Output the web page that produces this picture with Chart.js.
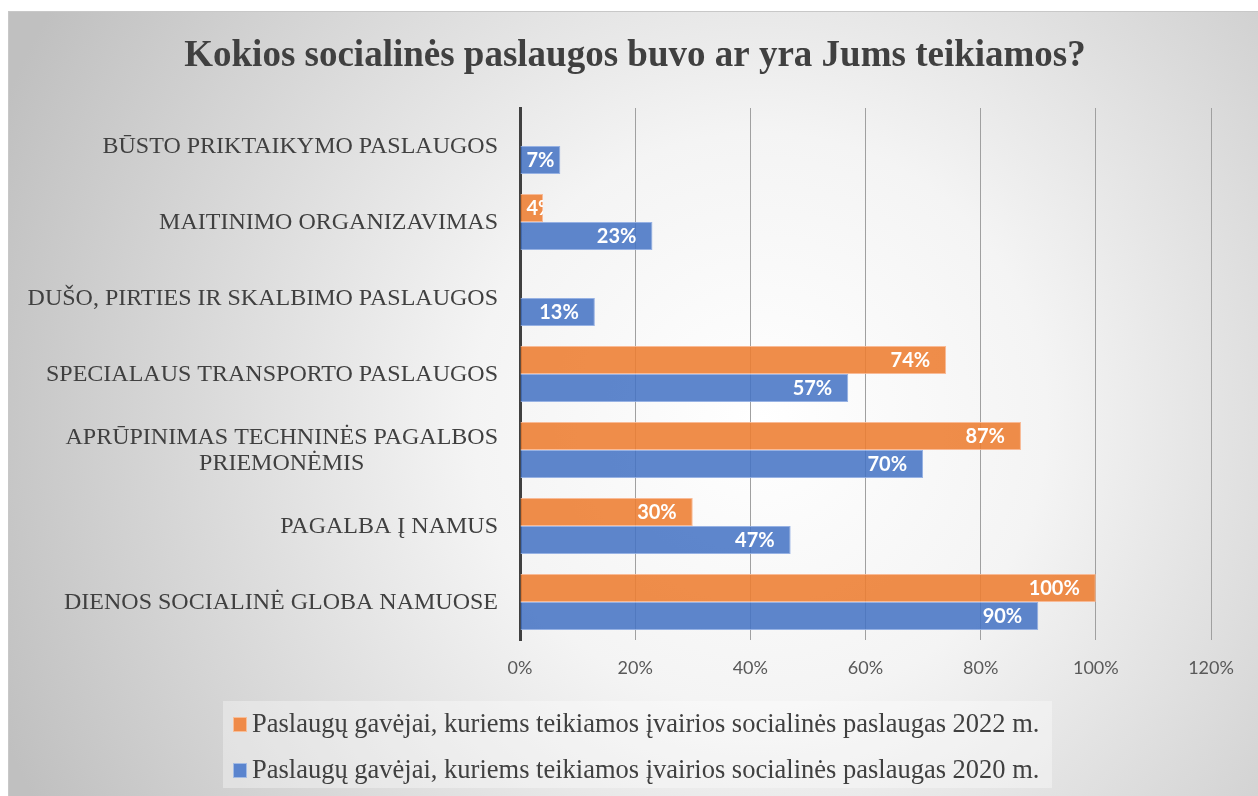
<!DOCTYPE html>
<html>
<head>
<meta charset="utf-8">
<script src="https://cdn.jsdelivr.net/npm/chart.js@4.4.1/dist/chart.umd.min.js"></script>
<style>
html,body{margin:0;padding:0;background:#fff;}
#wrap{position:absolute;left:0;top:0;width:1258px;height:796px;}
</style>
</head>
<body>
<div id="wrap"><canvas id="c"></canvas></div>
<script>
const chartTitle = 'Kokios socialinės paslaugos buvo ar yra Jums teikiamos?';
const categories = [
  ['BŪSTO PRIKTAIKYMO PASLAUGOS'],
  ['MAITINIMO ORGANIZAVIMAS'],
  ['DUŠO, PIRTIES IR SKALBIMO PASLAUGOS'],
  ['SPECIALAUS TRANSPORTO PASLAUGOS'],
  ['APRŪPINIMAS TECHNINĖS PAGALBOS', 'PRIEMONĖMIS'],
  ['PAGALBA Į NAMUS'],
  ['DIENOS SOCIALINĖ GLOBA NAMUOSE']
];
const seriesNames = [
  'Paslaugų gavėjai, kuriems teikiamos įvairios socialinės paslaugas 2022 m.',
  'Paslaugų gavėjai, kuriems teikiamos įvairios socialinės paslaugas 2020 m.'
];
const values2022 = [null, 4, null, 74, 87, 30, 100];
const values2020 = [7, 23, 13, 57, 70, 47, 90];
const xTickValues = [0, 20, 40, 60, 80, 100, 120];

const fillColors = ['rgba(237,125,49,0.88)', 'rgba(68,114,196,0.86)'];
const edgeColors = ['rgba(248,180,140,0.9)', 'rgba(140,170,225,0.9)'];
const legendColors = ['#EF8A48', '#5A84CE'];
const legendEdges = ['#F7BE98', '#A3BBE4'];

const bgPlugin = {
  id: 'bg',
  beforeDraw(chart) {
    const ctx = chart.ctx;
    ctx.save();
    ctx.fillStyle = '#ffffff';
    ctx.fillRect(0, 0, chart.width, chart.height);
    const g = ctx.createRadialGradient(760, 420, 0, 760, 420, 820);
    g.addColorStop(0, '#ffffff');
    g.addColorStop(0.35, '#f4f4f4');
    g.addColorStop(1, '#c0c0c0');
    ctx.fillStyle = g;
    ctx.fillRect(8, 11, 1250, 785);
    ctx.strokeStyle = '#c8c8c8';
    ctx.lineWidth = 1;
    ctx.strokeRect(8.5, 11.5, 1260, 800);
    // title
    ctx.fillStyle = '#404040';
    ctx.font = 'bold 37px "Liberation Serif"';
    ctx.textAlign = 'center';
    ctx.textBaseline = 'middle';
    ctx.fillText(chartTitle, 635, 56);
    // legend
    ctx.fillStyle = 'rgba(255,255,255,0.35)';
    ctx.fillRect(223, 701, 829, 87);
    const baselines = [732, 778];
    ctx.font = '26.5px "Liberation Serif"';
    ctx.textAlign = 'left';
    ctx.textBaseline = 'alphabetic';
    for (let i = 0; i < seriesNames.length; i++) {
      ctx.fillStyle = legendEdges[i];
      ctx.fillRect(233, baselines[i] - 15, 14, 15);
      ctx.fillStyle = legendColors[i];
      ctx.fillRect(234, baselines[i] - 14, 12, 13);
      ctx.fillStyle = '#404040';
      ctx.fillText(seriesNames[i], 252, baselines[i]);
    }
    ctx.restore();
  }
};

const labelPlugin = {
  id: 'labels',
  afterDatasetsDraw(chart) {
    const ctx = chart.ctx;
    ctx.save();
    ctx.font = 'bold 20px Lato';
    ctx.fillStyle = '#ffffff';
    ctx.textBaseline = 'middle';
    ctx.textAlign = 'left';
    chart.data.datasets.forEach((ds, di) => {
      const meta = chart.getDatasetMeta(di);
      meta.data.forEach((el, i) => {
        const v = ds.data[i];
        if (v === null || v === undefined) return;
        const txt = v + '%';
        const w = ctx.measureText(txt).width;
        let left = el.x - 16 - w;
        if (left < el.base + 6) left = el.base + 6;
        ctx.save();
        ctx.beginPath();
        ctx.rect(el.base, el.y - el.height / 2, el.x - el.base, el.height);
        ctx.clip();
        ctx.fillText(txt, left, el.y + 1);
        ctx.restore();
      });
    });
    // category labels
    const ys = chart.scales.y;
    ctx.font = '24px "Liberation Serif"';
    ctx.fillStyle = '#404040';
    ctx.textAlign = 'center';
    categories.forEach((lines, i) => {
      const cy = ys.getPixelForValue(i) + 1;
      const lh = 26;
      let bw = 0;
      lines.forEach(l => { bw = Math.max(bw, ctx.measureText(l).width); });
      const cx = 498 - bw / 2;
      lines.forEach((l, k) => {
        ctx.fillText(l, cx, cy + (k - (lines.length - 1) / 2) * lh);
      });
    });
    ctx.restore();
  }
};

new Chart(document.getElementById('c'), {
  type: 'bar',
  data: {
    labels: categories,
    datasets: [
      { label: seriesNames[0], data: values2022, backgroundColor: fillColors[0], borderColor: edgeColors[0], borderWidth: 1, borderSkipped: 'start' },
      { label: seriesNames[1], data: values2020, backgroundColor: fillColors[1], borderColor: edgeColors[1], borderWidth: 1, borderSkipped: 'start' }
    ]
  },
  options: {
    indexAxis: 'y',
    responsive: true,
    maintainAspectRatio: false,
    animation: false,
    layout: { padding: { left: 8, top: 108, right: 47, bottom: 0 } },
    datasets: { bar: { categoryPercentage: 0.737, barPercentage: 1.0 } },
    plugins: { legend: { display: false }, title: { display: false }, tooltip: { enabled: false } },
    scales: {
      y: {
        type: 'category',
        ticks: { display: false },
        grid: { display: false, drawTicks: false },
        border: { display: true, color: '#404040', width: 3 },
        afterFit(s) { s.width = 512; }
      },
      x: {
        min: 0, max: 120,
        afterBuildTicks(s) { s.ticks = xTickValues.map(v => ({ value: v })); },
        ticks: {
          callback: v => v + '%',
          color: '#595959',
          font: { family: 'Lato', size: 18 },
          padding: 17
        },
        grid: { color: '#a0a0a0', lineWidth: 1, drawTicks: false },
        border: { display: false },
        afterFit(s) { s.height = 156; }
      }
    }
  },
  plugins: [bgPlugin, labelPlugin]
});
</script>
</body>
</html>
